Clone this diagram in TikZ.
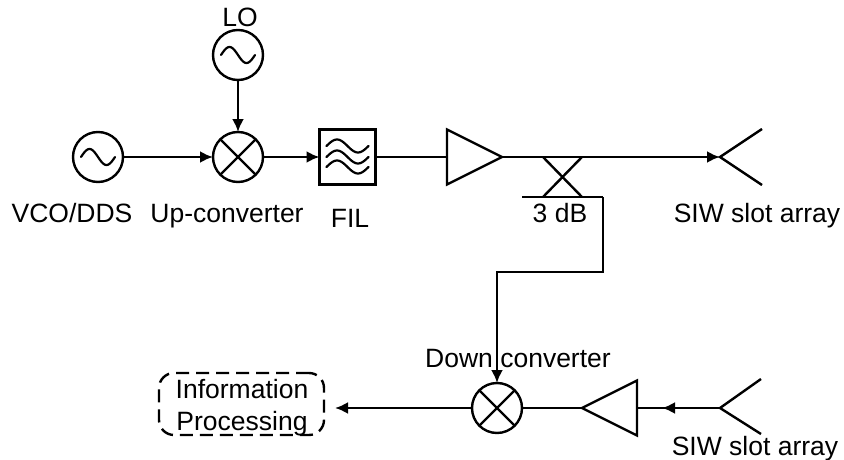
\documentclass[tikz,border=0pt]{standalone}
\usepackage{fontspec}
\setmainfont{Liberation Sans}
\usetikzlibrary{arrows.meta,shapes.geometric}

\tikzset{
  wire/.style={line width=2.4pt},
  flow/.style={wire,-{Latex[length=13pt,width=12pt]}},
  lbl/.style={inner sep=0pt,anchor=base,font=\fontsize{26.5}{33}\selectfont},
  ring/.style={draw,wire,circle,minimum size=50pt,inner sep=0pt,outer sep=0pt},
  amptri/.style={draw,wire,isosceles triangle,isosceles triangle stretches,
    minimum width=55pt,minimum height=55pt,inner sep=0pt,outer sep=0pt,anchor=apex},
  wave/.style={line width=2.2pt,line cap=round,samples=40,smooth}
}
\newcommand{\sinewave}[1]{\draw[wave,shift={(#1)}] plot[domain=-17:17] (\x,{-8*sin((\x+17)*360/34)});}

\begin{document}
\begin{tikzpicture}[x=1pt,y=-1pt]
    \useasboundingbox (0,0) rectangle (844,460);
    % transmit chain
    \node[ring] (vco) at (98,157) {};
    \node[ring] (lo) at (238,55) {};
    \node[ring] (upmix) at (238,157) {};
    \node[draw,wire,minimum width=56pt,minimum height=55pt,inner sep=0pt,outer sep=0pt] (fil) at (347.5,157) {};
    \node[amptri] (amptx) at (502,157) {};
    \coordinate (anttx) at (720,157);
    \sinewave{vco}
    \sinewave{lo}
    \draw[wire] (upmix.45) -- (upmix.225) (upmix.135) -- (upmix.315);
    \foreach \r in {-11,0,10} {
      \draw[wave,shift={(fil)}] plot[domain=-21:21] (\x,{\r-6.5*sin((\x+21)*360/42)});
    }
    \draw[flow] (lo) -- (upmix);
    \draw[flow] (vco) -- (upmix);
    \draw[flow] (upmix) -- (fil);
    \draw[wire] (fil) -- (amptx.lower side);
    \draw[flow] (amptx.apex) -- (anttx);
    \draw[wire] (762,129) -- (anttx) -- (762,185);
    % 3 dB coupler
    \coordinate (cpla) at (543,157);
    \coordinate (cplb) at (582,157);
    \coordinate (cplc) at (543,197);
    \coordinate (cpld) at (582,197);
    \coordinate (cple) at (522,197);
    \coordinate (cplf) at (603,197);
    \draw[wire] (cpla) -- (cpld) (cplb) -- (cplc);
    \draw[wire] (cple) -- (cplf);
    % receive chain
    \node[ring] (dnmix) at (497,408) {};
    \node[amptri,shape border rotate=180] (amprx) at (582,408) {};
    \coordinate (antrx) at (720,408);
    \node[draw,wire,dashed,dash pattern=on 13pt off 7pt,rounded corners=15pt,minimum width=165pt,minimum height=62pt,inner sep=0pt] (proc) at (241.5,404) {};
    \coordinate (proctip) at (335,408);
    \draw[wire] (dnmix.45) -- (dnmix.225) (dnmix.135) -- (dnmix.315);
    \draw[flow] (cplf) -- (603,272) -- (497,272) -- (dnmix.north);
    \draw[flow] (dnmix) -- (proctip);
    \draw[wire] (amprx.apex) -- (dnmix);
    \draw[wire] (antrx) -- (amprx.lower side);
    \draw[flow] (antrx) -- (662,408);
    \draw[wire] (761,379) -- (antrx) -- (761,434);
    % labels
    \node[lbl] (lolbl) at (240,27) {LO};
    \node[lbl] (vcolbl) at (72,222) {VCO/DDS};
    \node[lbl] (uplbl) at (227,222) {Up-converter};
    \node[lbl] (fillbl) at (350,227) {FIL};
    \node[lbl] (cpllbl) at (560,222) {3 dB};
    \node[lbl] (anttxlbl) at (757,222) {SIW slot array};
    \node[lbl] (dnlbl) at (518,367) {Down converter};
    \node[lbl] (infolbl) at (242,398) {Information};
    \node[lbl] (proclbl) at (242,430) {Processing};
    \node[lbl] (antrxlbl) at (755,455) {SIW slot array};
\end{tikzpicture}
\end{document}
